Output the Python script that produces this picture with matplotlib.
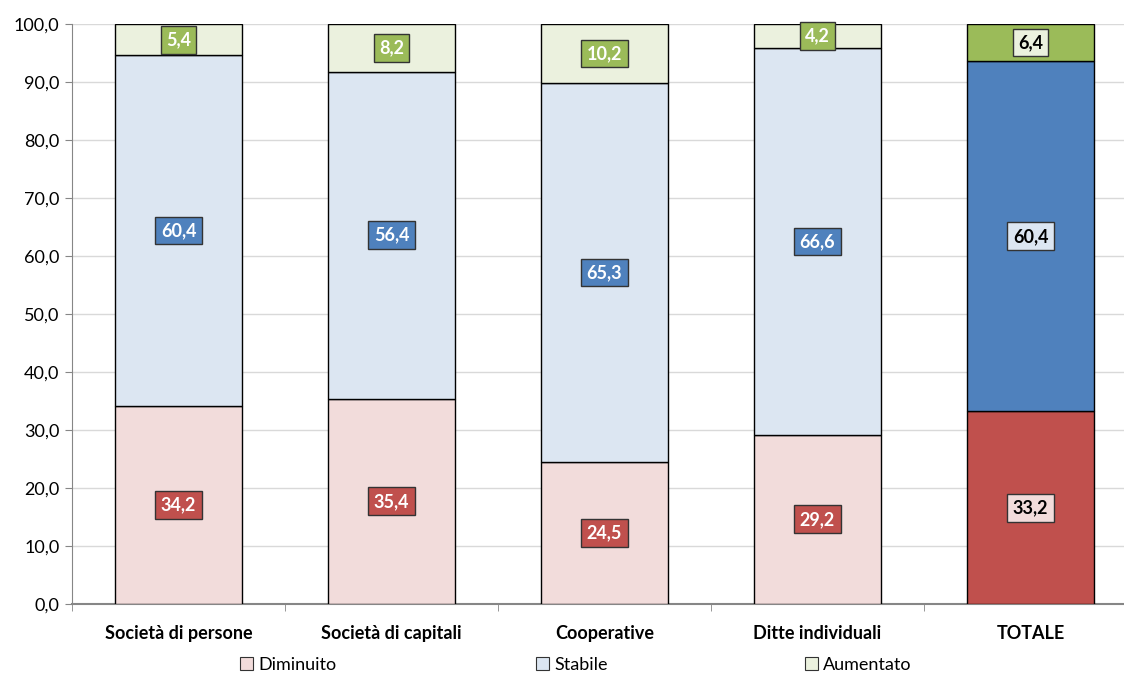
import matplotlib
matplotlib.use("Agg")
import matplotlib.pyplot as plt
import numpy as np
from matplotlib.patches import Patch

categories = ["Società di persone", "Società di capitali", "Cooperative", "Ditte individuali", "TOTALE"]
diminuito = [34.2, 35.4, 24.5, 29.2, 33.2]
stabile = [60.4, 56.4, 65.3, 66.6, 60.4]
aumentato = [5.4, 8.2, 10.2, 4.2, 6.4]
series_names = ["Diminuito", "Stabile", "Aumentato"]

light = ["#F2DCDB", "#DCE6F2", "#EBF1DE"]
dark = ["#C0504D", "#4F81BD", "#9BBB59"]

plt.rcParams['font.family'] = ['Lato', 'DejaVu Sans']

fig = plt.figure(figsize=(11.24, 6.75), dpi=100)
W, H = 1124, 675
ax = fig.add_axes([72 / W, 71 / H, 1065 / W, 580 / H])

x = np.arange(len(categories))
series = [diminuito, stabile, aumentato]
bottom = np.zeros(len(categories))
for si, vals in enumerate(series):
    vals = np.array(vals)
    for i in range(len(categories)):
        is_total = i == len(categories) - 1
        fc = dark[si] if is_total else light[si]
        ax.bar(x[i], vals[i], bottom=bottom[i], width=0.6, color=fc,
               edgecolor="black", linewidth=1.0, zorder=3)
        box_fc = light[si] if is_total else dark[si]
        txt_c = "black" if is_total else "white"
        ax.text(x[i], bottom[i] + vals[i] / 2, f"{vals[i]:.1f}".replace(".", ","),
                ha="center", va="center", fontsize=13, fontweight="bold", color=txt_c,
                zorder=5,
                bbox=dict(boxstyle="square,pad=0.3", fc=box_fc, ec="#333333", lw=1.0))
    bottom += vals

ax.set_xlim(-0.5, len(categories) - 0.5)
ax.set_ylim(0, 100)
ax.set_yticks(np.arange(0, 101, 10))
ax.set_yticklabels([f"{v:.1f}".replace(".", ",") for v in np.arange(0, 101, 10)], fontsize=13)
ax.set_xticks(x)
ax.set_xticklabels(categories, fontsize=13, fontweight="bold")
ax.set_xticks(np.arange(-0.5, len(categories) + 0.5, 1), minor=True)
ax.tick_params(axis="x", which="major", length=0, pad=15)
ax.tick_params(axis="x", which="minor", length=5, color="#868686", direction="out")
ax.tick_params(axis="y", length=5, color="#868686", direction="out", pad=4)

ax.grid(axis="y", color="#D9D9D9", linewidth=1.0, zorder=0)
ax.set_axisbelow(True)
for s in ["top", "right"]:
    ax.spines[s].set_visible(False)
ax.spines["left"].set_color("#868686")
ax.spines["bottom"].set_color("#868686")
ax.spines["bottom"].set_linewidth(1.5)

# Legend
handles = [Patch(facecolor=light[i], edgecolor="#333333", linewidth=0.8, label=series_names[i]) for i in range(3)]
leg_x = [240 / W, 536 / W, 805 / W]
for h, lx in zip(handles, leg_x):
    fig.legend(handles=[h], loc="center left", bbox_to_anchor=(lx, 1 - 665 / H),
               frameon=False, fontsize=13, handlelength=0.7, handleheight=0.7,
               handletextpad=0.3, borderpad=0, borderaxespad=0)

fig.savefig("out.png", dpi=100)
